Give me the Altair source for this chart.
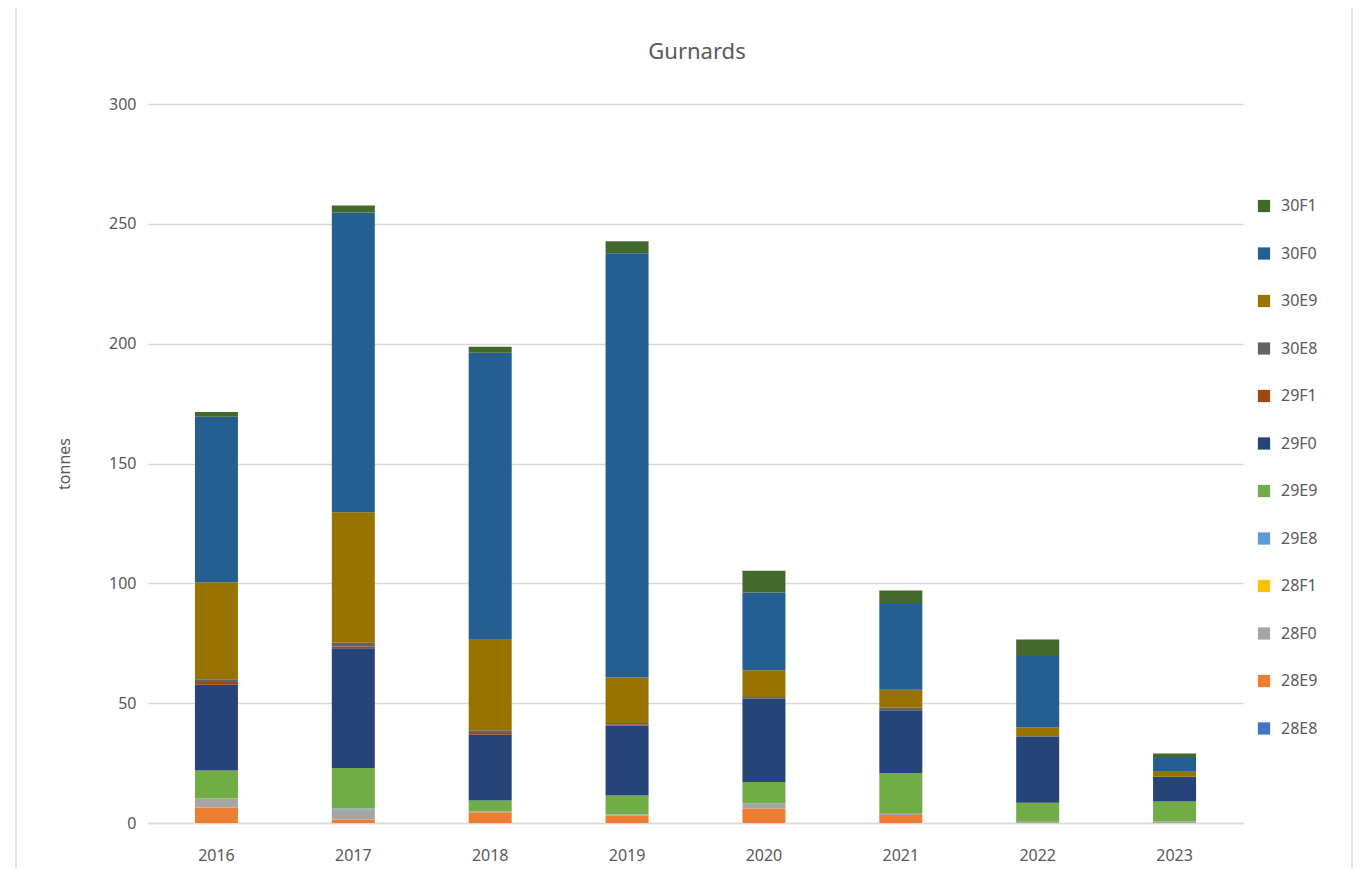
import altair as alt
import pandas as pd

years = ["2016", "2017", "2018", "2019", "2020", "2021", "2022", "2023"]

# stacking order bottom -> top
series = ["28E8", "28E9", "28F0", "28F1", "29E8", "29E9", "29F0", "29F1", "30E8", "30E9", "30F0", "30F1"]
colors = ["#4472C4", "#ED7D31", "#A5A5A5", "#FFC000", "#5B9BD5", "#70AD47", "#264478", "#9E480E", "#636363", "#997300", "#255E91", "#43682B"]

v28E8 = [0, 0, 0, 0, 0, 0, 0, 0]
v28E9 = [6.5, 1.5, 4.5, 3.0, 6.0, 3.3, 0, 0]
v28F0 = [3.7, 4.1, 0.4, 0.5, 2.1, 0.6, 0.5, 0.6]
v28F1 = [0, 0, 0, 0, 0, 0, 0, 0]
v29E8 = [0, 0.5, 0, 0, 0, 0, 0, 0]
v29E9 = [11.7, 16.8, 4.5, 8.0, 9.0, 17.0, 8.0, 8.4]
v29F0 = [35.8, 50.0, 27.4, 29.2, 34.8, 26.1, 27.5, 10.3]
v29F1 = [1.1, 0.7, 0.8, 0.5, 0, 0, 0, 0]
v30E8 = [1.2, 1.6, 1.1, 0.5, 0.7, 1.1, 0.3, 0]
v30E9 = [40.5, 54.5, 37.8, 19.0, 11.1, 7.5, 3.6, 2.1]
v30F0 = [69.0, 125.0, 119.7, 177.0, 32.5, 36.2, 29.8, 6.1]
v30F1 = [2.0, 3.0, 2.5, 5.0, 9.1, 5.2, 6.9, 1.5]

values = [v28E8, v28E9, v28F0, v28F1, v29E8, v29E9, v29F0, v29F1, v30E8, v30E9, v30F0, v30F1]

chart_title = "Gurnards"

rows = []
for i, (s, vals) in enumerate(zip(series, values)):
    for y, v in zip(years, vals):
        rows.append({"year": y, "area": s, "tonnes": v, "idx": i})
df = pd.DataFrame(rows)

legend_domain = series[::-1]
legend_range = colors[::-1]

FONT = "Noto Sans"
GREY = "#595959"

bars = alt.Chart(df).mark_bar(size=43).encode(
    x=alt.X("year:N", sort=years,
            axis=alt.Axis(title=None, labelAngle=0, ticks=False, domain=True,
                          domainColor="#D9D9D9", domainWidth=1.5,
                          labelPadding=24, labelFontSize=16, labelColor=GREY, labelFont=FONT)),
    y=alt.Y("sum(tonnes):Q", stack="zero",
            scale=alt.Scale(domain=[0, 300], nice=False),
            axis=alt.Axis(title="tonnes", values=[0, 50, 100, 150, 200, 250, 300],
                          ticks=False, domain=False, grid=True, gridColor="#D9D9D9",
                          gridWidth=1.5, labelPadding=12, labelFontSize=16,
                          labelColor=GREY, labelFont=FONT, titleFontSize=16,
                          titleColor=GREY, titleFont=FONT, titleFontWeight="normal",
                          titlePadding=36)),
    color=alt.Color("area:N", sort=legend_domain,
                    scale=alt.Scale(domain=legend_domain, range=legend_range),
                    legend=alt.Legend(title=None, orient="none", legendX=1108, legendY=94,
                                      symbolType="square", symbolSize=150,
                                      symbolStrokeWidth=0,
                                      labelFontSize=16, labelColor=GREY, labelFont=FONT,
                                      rowPadding=31.5, labelOffset=9)),
    order=alt.Order("idx:Q", sort="ascending"),
)

border = alt.Chart(pd.DataFrame({"a": [0]})).mark_rect(
    fill=None, stroke="#D9D9D9", strokeWidth=1.5, clip=False
).encode(
    x=alt.value(-132), x2=alt.value(1204),
    y=alt.value(-97), y2=alt.value(770),
)

title = alt.Chart(pd.DataFrame({"t": [chart_title]})).mark_text(
    fontSize=22, color=GREY, font=FONT, align="center", baseline="middle"
).encode(
    text="t:N", x=alt.value(549), y=alt.value(-52),
)

chart = alt.layer(border, bars, title).properties(
    width=1095, height=719,
    autosize=alt.AutoSizeParams(type="none"),
    padding={"left": 140, "top": 96, "right": 110, "bottom": 45},
).configure_view(stroke=None)

chart.save("out.html", embed_options={"renderer": "svg", "actions": False})
